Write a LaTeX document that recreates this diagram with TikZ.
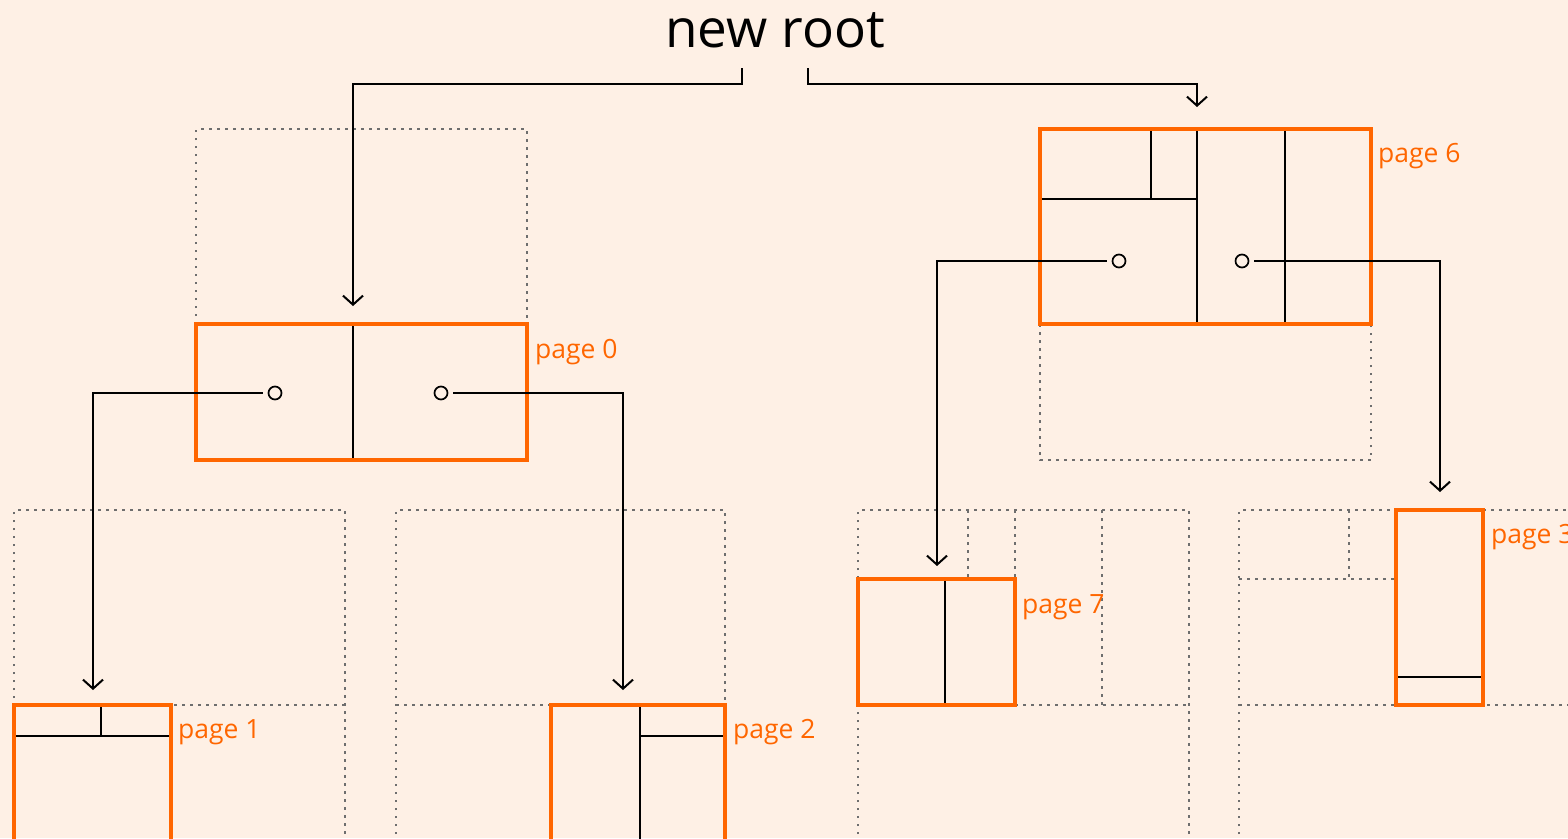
\documentclass[tikz,border=0pt]{standalone}
\usepackage{fontspec}
\setmainfont{Open Sans}
\usetikzlibrary{arrows.meta}
\definecolor{bgc}{HTML}{FEF0E5}
\definecolor{pageorange}{HTML}{FF6600}
\definecolor{dotgray}{HTML}{6E6E6E}
\tikzset{
  dotline/.style={draw=dotgray, line width=2.5pt, dash pattern=on 2.5pt off 5.5pt},
  divider/.style={draw=black, line width=2pt},
  pagebox/.style={draw=pageorange, line width=3.5pt, anchor=north west, inner sep=0pt, outer sep=0pt},
  pagelabel/.style={text=pageorange, font=\fontsize{26.5}{30}\selectfont, anchor=base west, inner sep=0pt},
  keycircle/.style={draw=black, circle, line width=1.7pt, minimum size=13pt, inner sep=0pt},
  conn/.style={draw=black, line width=2pt, -{Straight Barb[length=9pt,width=20pt,line width=2pt]}},
}
\begin{document}
\begin{tikzpicture}[x=1pt,y=-1pt]
\useasboundingbox (0,0) rectangle (1568,838);
\fill[bgc] (0,0) rectangle (1568,838);
\clip (0,0) rectangle (1568,838);

% ---------- dotted outlines ----------
\draw[dotline] (196,324) -- (196,129) -- (527,129) -- (527,324);
% page 1 region
\draw[dotline] (14,850) -- (14,510) -- (345,510) -- (345,850);
\draw[dotline, dash phase=4pt] (14,510) -- (345,510);
\draw[dotline] (14,705) -- (345,705);
% page 2 region
\draw[dotline] (396,850) -- (396,510) -- (725,510) -- (725,705);
\draw[dotline] (396,705) -- (551,705);
% page 6 region
\draw[dotline] (1040,324) -- (1040,460) -- (1371,460) -- (1371,324);
% page 7 region
\draw[dotline] (858,850) -- (858,510) -- (1189,510) -- (1189,850);
\draw[dotline] (968,510) -- (968,579);
\draw[dotline] (1015,510) -- (1015,579);
\draw[dotline] (1102,510) -- (1102,705);
\draw[dotline] (1015,705) -- (1189,705);
% page 3 region
\draw[dotline] (1239,850) -- (1239,510) -- (1580,510);
\draw[dotline] (1349,510) -- (1349,579);
\draw[dotline] (1239,579) -- (1396,579);
\draw[dotline] (1239,705) -- (1580,705);

% ---------- dividers inside pages ----------
\draw[divider] (353,324) -- (353,460);
\draw[divider] (14,736) -- (171,736);
\draw[divider] (101,705) -- (101,736);
\draw[divider] (640,705) -- (640,850);
\draw[divider] (640,736) -- (725,736);
\draw[divider] (1197,129) -- (1197,324);
\draw[divider] (1285,129) -- (1285,324);
\draw[divider] (1151,129) -- (1151,199);
\draw[divider] (1040,199) -- (1197,199);
\draw[divider] (945,579) -- (945,705);
\draw[divider] (1396,677) -- (1483,677);

% ---------- pages ----------
\node[pagebox, minimum width=331pt, minimum height=136pt] (p0) at (196,324) {};
\node[pagebox, minimum width=157pt, minimum height=160pt] (p1) at (14,705) {};
\node[pagebox, minimum width=174pt, minimum height=160pt] (p2) at (551,705) {};
\node[pagebox, minimum width=331pt, minimum height=195pt] (p6) at (1040,129) {};
\node[pagebox, minimum width=157pt, minimum height=126pt] (p7) at (858,579) {};
\node[pagebox, minimum width=87pt, minimum height=195pt] (p3) at (1396,510) {};

\node[pagelabel] (l0) at ([xshift=8pt,yshift=-34pt]p0.north east) {page 0};
\node[pagelabel] (l1) at ([xshift=7pt,yshift=-33pt]p1.north east) {page 1};
\node[pagelabel] (l2) at ([xshift=8pt,yshift=-33pt]p2.north east) {page 2};
\node[pagelabel] (l6) at ([xshift=7pt,yshift=-33pt]p6.north east) {page 6};
\node[pagelabel] (l7) at ([xshift=7pt,yshift=-34pt]p7.north east) {page 7};
\node[pagelabel] (l3) at ([xshift=8pt,yshift=-33pt]p3.north east) {page 3};

% ---------- title ----------
\node[font=\fontsize{53}{60}\selectfont, anchor=base, inner sep=0pt] (title) at (775,47) {new root};

% ---------- key circles ----------
\node[keycircle] (c0l) at (275,393) {};
\node[keycircle] (c0r) at (441,393) {};
\node[keycircle] (c6l) at (1119,261) {};
\node[keycircle] (c6r) at (1242,261) {};

% ---------- connector end points ----------
\coordinate (bl) at (742,68);
\coordinate (br) at (808,68);
\coordinate (kl) at (742,84);
\coordinate (kr) at (808,84);
\coordinate (a0) at (353,306);
\coordinate (a6) at (1197,107);
\coordinate (a1) at (93,690);
\coordinate (a2) at (623,690);
\coordinate (a7) at (937,566);
\coordinate (a3) at (1440,492);

% ---------- connectors ----------
\draw[conn] (bl) -- (kl) -| (a0);
\draw[conn] (br) -- (kr) -| (a6);
\draw[conn, shorten <=5pt] (c0l.west) -| (a1);
\draw[conn, shorten <=5pt] (c0r.east) -| (a2);
\draw[conn, shorten <=5pt] (c6l.west) -| (a7);
\draw[conn, shorten <=5pt] (c6r.east) -| (a3);
\end{tikzpicture}
\end{document}
